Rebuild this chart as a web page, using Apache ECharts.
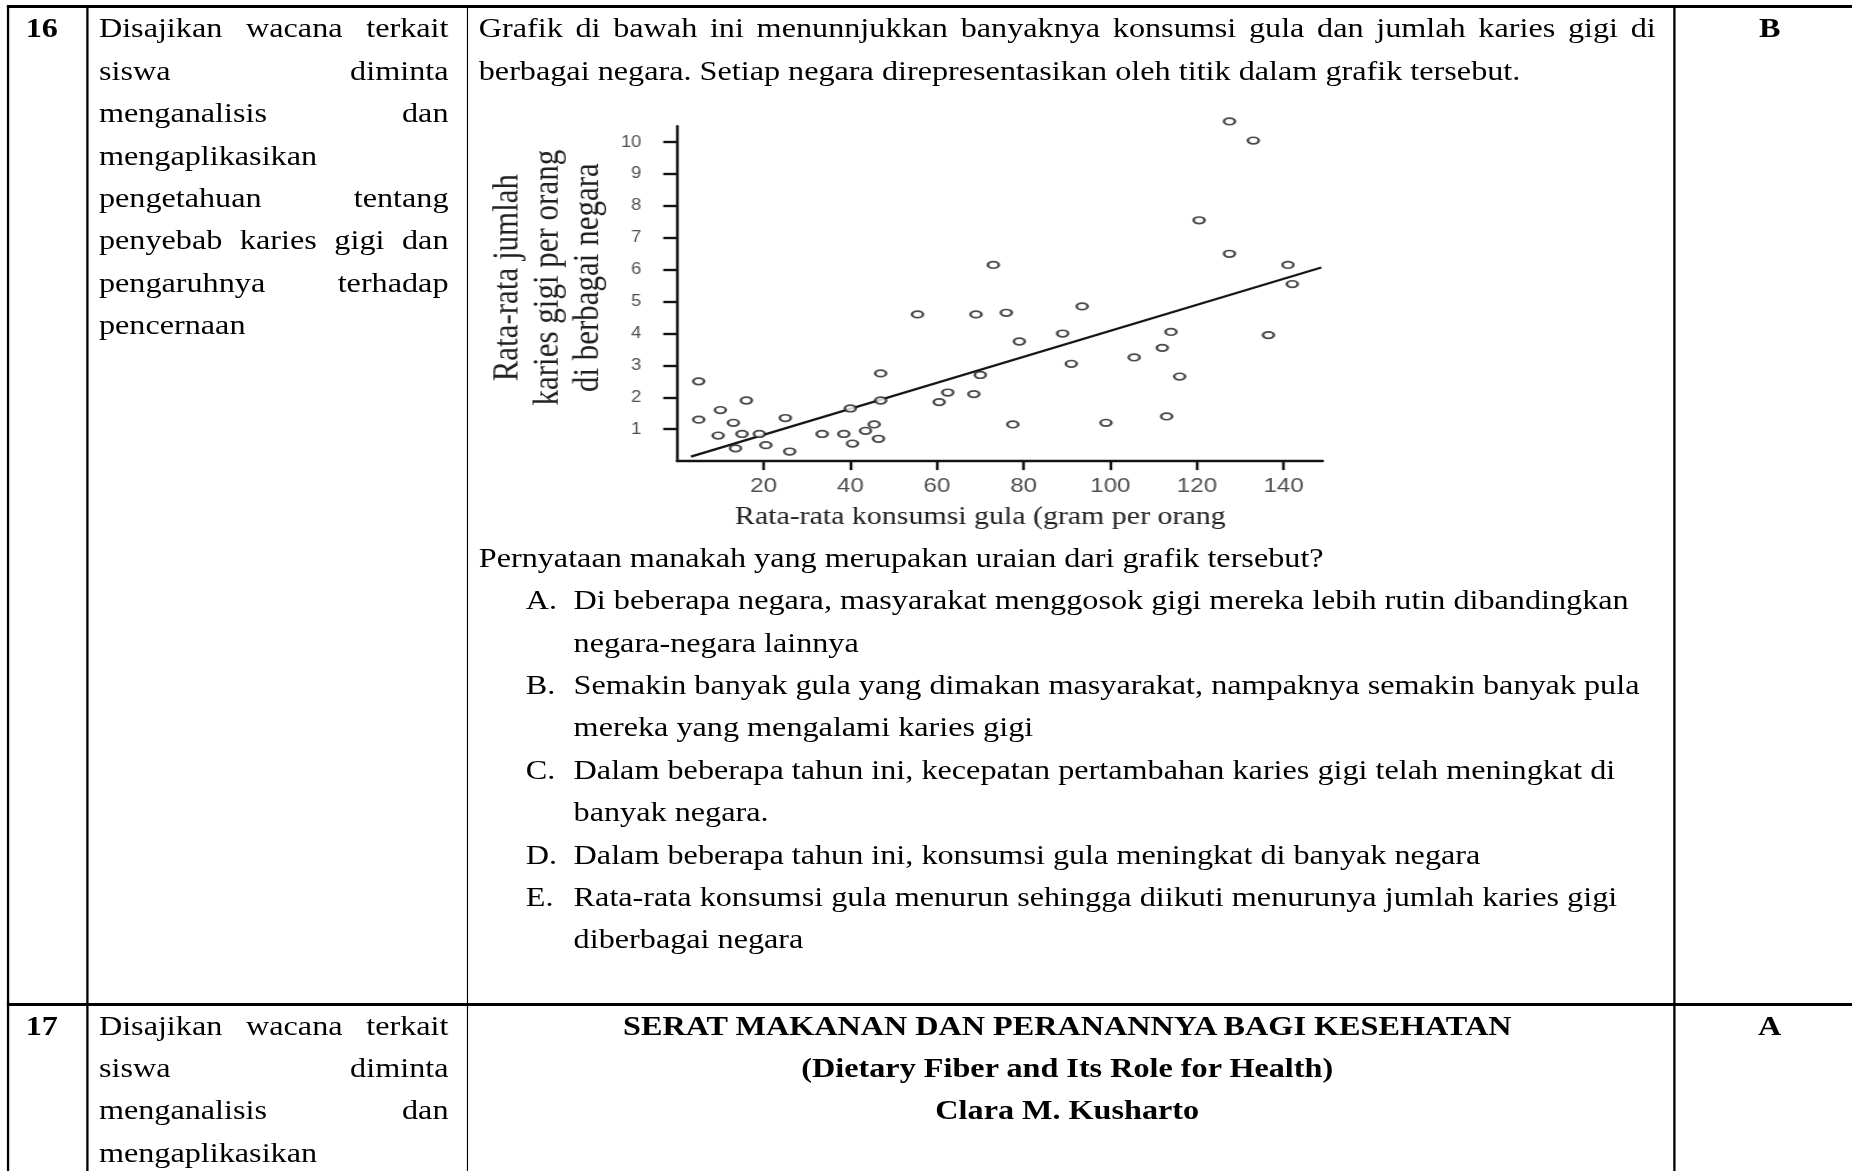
<!DOCTYPE html>
<html>
<head>
<meta charset="utf-8">
<title>Soal 16 - Konsumsi gula dan karies gigi</title>
<script src="https://cdn.jsdelivr.net/npm/echarts@6/dist/echarts.min.js"></script>
<style>
  html, body { margin: 0; padding: 0; background: #fff; overflow: hidden; }
  body { width: 1852px; height: 1171px; position: relative; }
  /* the whole sheet is laid out at 1610px and widened to the 1852px window */
  #page {
    position: absolute; left: 0; top: 0; width: 1610px; height: 1171px;
    transform: scaleX(1.15); transform-origin: 0 0;
    font-family: "Liberation Serif", "Times New Roman", serif;
    font-size: 28px; color: #000;
  }
  .hl { position: absolute; height: 2.5px; background: #000; }
  .vl { position: absolute; width: 1.75px; background: #000; }
  .cell { position: absolute; }
  .ln { height: 42.4px; line-height: 42.4px; white-space: nowrap; }
  .j { text-align: justify; text-align-last: justify; }
  .b { font-weight: bold; }
  .c { text-align: center; }
  .opt { position: relative; padding-left: 82.5px; }
  .opt .key { position: absolute; left: 40.9px; top: 0; }
  #chart { width: 1022.7px; height: 444.6px; }
</style>
</head>
<body>
<div id="page">
  <!-- table rules -->
  <div class="hl" style="left:6px; top:5px; width:1620px;"></div>
  <div class="hl" style="left:6px; top:1003px; width:1620px;"></div>
  <div class="vl" style="left:6px; top:5px; height:1166px;"></div>
  <div class="vl" style="left:74.8px; top:5px; height:1166px;"></div>
  <div class="vl" style="left:405.5px; top:5px; height:1166px;"></div>
  <div class="vl" style="left:1454.8px; top:5px; height:1166px;"></div>

  <!-- row 16 -->
  <div class="cell b" style="left:22.3px; top:7.4px;"><div class="ln">16</div></div>
  <div class="cell" style="left:86px; top:7.4px; width:304px;">
    <div class="ln j">Disajikan wacana terkait</div>
    <div class="ln j">siswa diminta</div>
    <div class="ln j">menganalisis dan</div>
    <div class="ln">mengaplikasikan</div>
    <div class="ln j">pengetahuan tentang</div>
    <div class="ln j">penyebab karies gigi dan</div>
    <div class="ln j">pengaruhnya terhadap</div>
    <div class="ln">pencernaan</div>
  </div>
  <div class="cell" style="left:416.3px; top:7.4px; width:1023.5px;">
    <div class="ln j">Grafik di bawah ini menunnjukkan banyaknya konsumsi gula dan jumlah karies gigi di</div>
    <div class="ln">berbagai negara. Setiap negara direpresentasikan oleh titik dalam grafik tersebut.</div>
    <div id="chart"></div>
    <div class="ln">Pernyataan manakah yang merupakan uraian dari grafik tersebut?</div>
    <div class="opt"><span class="ln key">A.</span>
      <div class="ln">Di beberapa negara, masyarakat menggosok gigi mereka lebih rutin dibandingkan</div>
      <div class="ln">negara-negara lainnya</div>
    </div>
    <div class="opt"><span class="ln key">B.</span>
      <div class="ln">Semakin banyak gula yang dimakan masyarakat, nampaknya semakin banyak pula</div>
      <div class="ln">mereka yang mengalami karies gigi</div>
    </div>
    <div class="opt"><span class="ln key">C.</span>
      <div class="ln">Dalam beberapa tahun ini, kecepatan pertambahan karies gigi telah meningkat di</div>
      <div class="ln">banyak negara.</div>
    </div>
    <div class="opt"><span class="ln key">D.</span>
      <div class="ln">Dalam beberapa tahun ini, konsumsi gula meningkat di banyak negara</div>
    </div>
    <div class="opt"><span class="ln key">E.</span>
      <div class="ln">Rata-rata konsumsi gula menurun sehingga diikuti menurunya jumlah karies gigi</div>
      <div class="ln">diberbagai negara</div>
    </div>
  </div>
  <div class="cell b c" style="left:1454.8px; top:7.4px; width:168.2px;"><div class="ln">B</div></div>

  <!-- row 17 -->
  <div class="cell b" style="left:22.3px; top:1004.5px;"><div class="ln">17</div></div>
  <div class="cell" style="left:86px; top:1004.5px; width:304px;">
    <div class="ln j">Disajikan wacana terkait</div>
    <div class="ln j">siswa diminta</div>
    <div class="ln j">menganalisis dan</div>
    <div class="ln">mengaplikasikan</div>
  </div>
  <div class="cell b c" style="left:416.3px; top:1004.5px; width:1023.5px;">
    <div class="ln">SERAT MAKANAN DAN PERANANNYA BAGI KESEHATAN</div>
    <div class="ln">(Dietary Fiber and Its Role for Health)</div>
    <div class="ln">Clara M. Kusharto</div>
  </div>
  <div class="cell b c" style="left:1454.8px; top:1004.5px; width:168.2px;"><div class="ln">A</div></div>
</div>

<script>
// Average sugar intake (gram per person) and average caries per person, one entry per country
const sugarGrams = [5, 5, 10, 9.5, 13, 16, 15, 13.5, 19, 20.5,
  25, 26, 33.5, 38.5, 40, 40.5, 43.5, 45.5, 46.5, 47,
  47, 55.5, 60.5, 62.5, 68.5, 69, 70, 73, 76, 77.5,
  79, 89, 91, 93.5, 99, 105.5, 112, 113, 114, 116,
  120.5, 127.5, 127.5, 133, 136.5, 141, 142];
const cariesPerPerson = [2.5, 1.3, 1.6, 0.8, 1.2, 1.9, 0.85, 0.4, 0.85, 0.5,
  1.35, 0.3, 0.85, 0.85, 1.65, 0.55, 0.95, 1.15, 0.7, 2.75,
  1.9, 4.6, 1.85, 2.15, 2.1, 4.6, 2.7, 6.15, 4.65, 1.15,
  3.75, 4.0, 3.05, 4.85, 1.2, 3.25, 3.55, 1.4, 4.05, 2.65,
  7.55, 6.5, 10.65, 10.05, 3.95, 6.15, 5.55];

// Fitted trend line end points
const trendSugar = [3.2, 148.7];
const trendCaries = [0.14, 6.07];

// Axis tick labels
const xTickValues = [20, 40, 60, 80, 100, 120, 140];
const yTickValues = [1, 2, 3, 4, 5, 6, 7, 8, 9, 10];

const xTitle = 'Rata-rata konsumsi gula (gram per orang';
const yTitle = 'Rata-rata jumlah\nkaries gigi per orang\ndi berbagai negara';

const points = sugarGrams.map((x, i) => [x, cariesPerPerson[i]]);
const trend = trendSugar.map((x, i) => [x, trendCaries[i]]);

const ink = '#141414';
const chart = echarts.init(document.getElementById('chart'), null, { renderer: 'canvas' });
chart.setOption({
  animation: false,
  backgroundColor: '#fff',
  grid: { left: 171.5, top: 34.2, width: 562.6, height: 336 },
  xAxis: {
    type: 'value', min: 0, max: 149,
    name: xTitle, nameLocation: 'middle', nameGap: 37,
    nameTextStyle: {
      fontFamily: 'Liberation Serif', fontSize: 26, color: '#222',
      lineHeight: 30, padding: [0, 34, 0, 0]
    },
    axisLine: { show: true, lineStyle: { color: ink, width: 2.4 } },
    axisTick: { show: true, customValues: xTickValues, length: 9, inside: false,
      lineStyle: { color: ink, width: 2.4 } },
    axisLabel: { customValues: xTickValues, margin: 15,
      fontFamily: 'Liberation Sans', fontSize: 21, color: '#505050' },
    splitLine: { show: false }
  },
  yAxis: {
    type: 'value', min: 0, max: 10.5,
    name: yTitle, nameLocation: 'middle', nameRotate: 90, nameGap: 59,
    nameTextStyle: {
      fontFamily: 'Liberation Serif', fontSize: 31, color: '#222',
      lineHeight: 35, padding: [0, 0, 0, 32]
    },
    axisLine: { show: true, lineStyle: { color: ink, width: 2.4 } },
    axisTick: { show: true, customValues: yTickValues, length: 12, inside: false,
      lineStyle: { color: ink, width: 2.4 } },
    axisLabel: { customValues: yTickValues, margin: 31,
      fontFamily: 'Liberation Sans', fontSize: 16, color: '#505050' },
    splitLine: { show: false }
  },
  series: [
    {
      type: 'line', data: trend, symbol: 'none', z: 1,
      lineStyle: { color: ink, width: 2.2 }
    },
    {
      type: 'scatter', data: points, clip: false, z: 2,
      symbol: 'circle', symbolSize: [9.5, 6.6],
      itemStyle: { color: '#fff', borderColor: '#1e1e1e', borderWidth: 2 }
    }
  ]
});
</script>
</body>
</html>
